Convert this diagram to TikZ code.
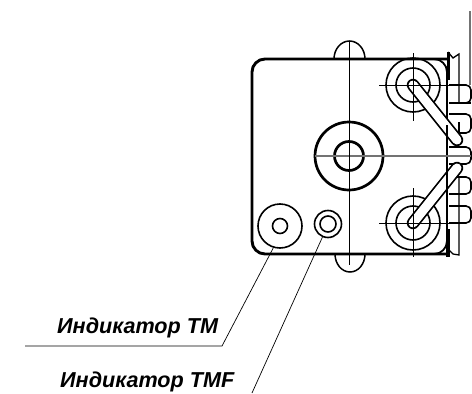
\documentclass[tikz,border=0pt]{standalone}
\usepackage{fontspec}
\setmainfont{Liberation Sans}
\usetikzlibrary{arrows,positioning,calc,shapes}
\tikzset{
  ring/.style={circle,draw,inner sep=0pt,line width=1.6pt},
  thickring/.style={circle,draw,inner sep=0pt,line width=2.7pt},
  axis/.style={line width=0.8pt},
  grayaxis/.style={line width=1.1pt,color=black!55},
  leader/.style={line width=0.7pt},
  wall/.style={line width=2.4pt},
  bump/.style={line width=1.6pt,rounded corners=5pt,fill=white},
  label/.style={font=\bfseries\itshape\fontsize{21.6}{24}\selectfont,inner sep=0pt,anchor=base west}
}

\begin{document}
\begin{tikzpicture}[x=1pt,y=-1pt]
\useasboundingbox (0,0) rectangle (472,394);
% connector bumps on the right
\foreach \ya/\yb in {85/103,114/133,147/164,177/194,206/223}
  \draw[bump] (449,\ya) -- (471,\ya) -- (471,\yb) -- (449,\yb);
\draw[grayaxis] (470,11) -- (470,85);
% housing
\draw[line width=2.9pt,rounded corners=13pt] (447,59) -- (252,59) -- (252,254) -- (447,254);
\draw[line width=1.8pt,rounded corners=13pt] (435,59) -- (447,59) -- (447,76);
\draw[line width=1.8pt,rounded corners=13pt] (447,238) -- (447,254) -- (435,254);
\draw[line width=1.5pt] (334,59) arc[start angle=180,end angle=360,x radius=15.5,y radius=18];
\draw[line width=1.5pt] (335,254) arc[start angle=180,end angle=0,x radius=15,y radius=18];
% flange
\draw[wall] (447,70) -- (447,257);
\draw[line width=3pt] (448,52) -- (448,80);
\draw[line width=3pt] (448,229) -- (448,257);
\draw[line width=1.3pt] (448,52) -- (453,58) -- (459,54) -- (459,103);
\draw[line width=1.3pt] (459,122) -- (459,137);
\draw[line width=1.3pt] (459,177) -- (459,255) -- (453,254) -- (449,250);
\draw[line width=1.3pt] (451,103) -- (471,103);
% rings
\node[thickring,minimum size=68pt] (main) at (349,156) {};
\node[thickring,minimum size=29pt] (mainin) at (349,156) {};
\foreach \n/\y in {upper/85,lower/223} {
  \node[ring,minimum size=54pt] (\n) at (413,\y) {};
  \node[ring,minimum size=34pt] (\n mid) at (413,\y) {};
}
% slanted tubes
\coordinate (upperend) at (457,140);
\coordinate (lowerend) at (457,168);
\draw[line width=12.5pt,line cap=round] (upper.center) -- (upperend);
\draw[line width=9pt,line cap=round,white] (upper.center) -- (upperend);
\draw[line width=12.5pt,line cap=round] (lower.center) -- (lowerend);
\draw[line width=9pt,line cap=round,white] (lower.center) -- (lowerend);
\draw[wall] (447,125) -- (447,190);
% axes
\draw[grayaxis] (315,156) -- (471,156);
\draw[axis] (349,41) -- (349,265);
\draw[axis] (379,85) -- (450,85);
\draw[axis] (413,53) -- (413,121);
\draw[axis] (379,223) -- (450,223);
\draw[axis] (413,188) -- (413,257);
% indicators
\node[ring,minimum size=44pt] (tm) at (280,226) {};
\node[ring,minimum size=15pt] (tmin) at (280,226) {};
\node[ring,minimum size=27pt] (tmf) at (328,224) {};
\node[ring,minimum size=16pt] (tmfin) at (328,224) {};
% labels and leaders
\node[label] (tmlabel) at (57,333) {Индикатор TM};
\node[label] (tmflabel) at (60,387) {Индикатор TMF};
\coordinate (tmknee) at (222,346);
\coordinate (tmfree) at (25,346);
\coordinate (tmfend) at (252,393);
\draw[leader] (tm.-107) -- (tmknee) -- (tmfree);
\draw[leader] (tmf.-113) -- (tmfend);
\end{tikzpicture}
\end{document}
